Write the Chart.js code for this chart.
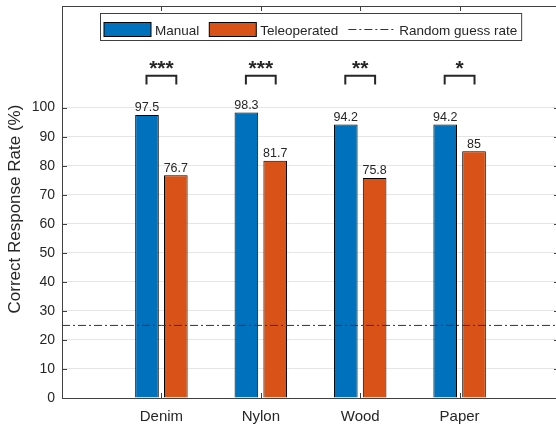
<!DOCTYPE html>
<html>
<head>
<meta charset="utf-8">
<script src="https://cdn.jsdelivr.net/npm/chart.js@4"></script>
<style>
  body { margin: 0; background: #fff; }
  canvas { display: block; }
</style>
</head>
<body>
<canvas id="chart" width="556" height="426"></canvas>
<script>
const categories = ['Denim', 'Nylon', 'Wood', 'Paper']
const manual = [97.5, 98.3, 94.2, 94.2]
const teleoperated = [76.7, 81.7, 75.8, 85]
const manualLabels = ['97.5', '98.3', '94.2', '94.2']
const teleLabels = ['76.7', '81.7', '75.8', '85']
const significance = ['***', '***', '**', '*']
const guessRate = 25
const yMax = 135
const yTickMax = 100

const blue = '#0072BD'
const orange = '#D95319'
const textColor = '#262626'
const font = "'Liberation Sans', Arial, Helvetica, sans-serif"
const dashDot = [8, 3, 2, 3]

Chart.defaults.font.family = font
Chart.defaults.color = textColor

// empty slot on each side so the groups sit at 1..4 on a 0..5 axis
const labels = ['', ...categories, '']
const pad = (arr) => [null, ...arr, null]

const noPadding = (s) => {
    s.paddingTop = 0
    s.paddingBottom = 0
    s.paddingLeft = 0
    s.paddingRight = 0
}

const extras = {
    id: 'extras',
    afterLayout(chart) {
        // the right edge of the axes box sits a few px past the canvas
        const x = chart.scales.x
        x.right += 3
        x.width = x.right - x.left
        x.configure()
        chart.chartArea.right += 3
        chart.chartArea.width += 3
    },
    afterDatasetsDraw(chart) {
        const ctx = chart.ctx
        const a = chart.chartArea
        const x = chart.scales.x
        const y = chart.scales.y
        const m0 = chart.getDatasetMeta(1)
        const m1 = chart.getDatasetMeta(2)
        ctx.save()

        // value labels above the bars
        ctx.fillStyle = textColor
        ctx.font = '12.5px ' + font
        ctx.textAlign = 'center'
        ctx.textBaseline = 'alphabetic'
        categories.forEach((c, i) => {
            const b0 = m0.data[i + 1]
            const b1 = m1.data[i + 1]
            ctx.fillText(manualLabels[i], b0.x, b0.y - 3.5)
            ctx.fillText(teleLabels[i], b1.x, b1.y - 3.5)
        })

        // significance brackets + stars
        ctx.strokeStyle = textColor
        ctx.lineWidth = 2
        const top = y.getPixelForValue(111)
        const leg = y.getPixelForValue(108)
        ctx.font = 'bold 21px ' + font
        categories.forEach((c, i) => {
            const x0 = m0.data[i + 1].x - 0.5
            const x1 = m1.data[i + 1].x + 0.5
            ctx.beginPath()
            ctx.moveTo(x0, leg)
            ctx.lineTo(x0, top)
            ctx.lineTo(x1, top)
            ctx.lineTo(x1, leg)
            ctx.stroke()
            ctx.fillText(significance[i], (x0 + x1) / 2, top - 1)
        })

        // box outline and inward ticks
        ctx.strokeStyle = '#404040'
        ctx.lineWidth = 1
        ctx.beginPath()
        ctx.moveTo(a.left, a.top + 0.5)
        ctx.lineTo(a.right, a.top + 0.5)
        categories.forEach((c, i) => {
            const px = Math.round(x.getPixelForValue(i + 1)) + 0.5
            ctx.moveTo(px, a.top)
            ctx.lineTo(px, a.top + 5)
            ctx.moveTo(px, a.bottom)
            ctx.lineTo(px, a.bottom - 5)
        })
        y.ticks.forEach((t) => {
            const py = Math.round(y.getPixelForValue(t.value)) + 0.5
            ctx.moveTo(a.left, py)
            ctx.lineTo(a.left + 5, py)
            ctx.moveTo(a.right, py)
            ctx.lineTo(a.right - 5, py)
        })
        ctx.stroke()

        drawLegend(ctx, a)
        ctx.restore()
    }
}

function drawLegend(ctx, a) {
    const items = [
        { text: 'Manual', color: blue },
        { text: 'Teleoperated', color: orange },
        { text: 'Random guess rate', line: true }
    ]
    ctx.font = '13.5px ' + font
    const sw = 47
    let w = 3.5 + 4.5
    items.forEach((it, i) => {
        it.w = ctx.measureText(it.text).width
        w += sw + 4 + it.w + (i > 0 ? 10 : 0)
    })
    const h = 27
    const left = Math.round((a.left + a.right) / 2 - w / 2) + 0.5
    const top = Math.round(a.top + 7) + 0.5
    ctx.fillStyle = '#fff'
    ctx.fillRect(left, top, w, h)
    ctx.strokeStyle = '#404040'
    ctx.lineWidth = 1
    ctx.strokeRect(left, top, w, h)

    let cx = left + 3.5
    items.forEach((it) => {
        if (it.line) {
            ctx.strokeStyle = '#333'
            ctx.setLineDash(dashDot)
            ctx.beginPath()
            ctx.moveTo(cx, top + 16)
            ctx.lineTo(cx + sw, top + 16)
            ctx.stroke()
            ctx.setLineDash([])
        } else {
            ctx.fillStyle = it.color
            ctx.fillRect(cx, top + 9, sw, 14)
            ctx.strokeStyle = '#000'
            ctx.strokeRect(cx, top + 9, sw, 14)
        }
        ctx.fillStyle = textColor
        ctx.textAlign = 'left'
        ctx.textBaseline = 'alphabetic'
        ctx.fillText(it.text, cx + sw + 4, top + 21.5)
        cx += sw + 4 + it.w + 10
    })
}

const ctx = document.getElementById('chart')

const chart = new Chart(ctx, {
    type: 'bar',
    data: {
        labels: labels,
        datasets: [{
            type: 'line',
            label: 'Random guess rate',
            data: labels.map(() => guessRate),
            borderColor: '#333',
            borderWidth: 1,
            borderDash: dashDot,
            pointRadius: 0,
            order: 0
        }, {
            label: 'Manual',
            data: pad(manual),
            backgroundColor: blue,
            borderColor: '#000',
            borderWidth: 1,
            order: 1
        }, {
            label: 'Teleoperated',
            data: pad(teleoperated),
            backgroundColor: orange,
            borderColor: '#000',
            borderWidth: 1,
            order: 1
        }]
    },
    options: {
        responsive: false,
        animation: false,
        categoryPercentage: 0.58,
        barPercentage: 0.82,
        layout: {
            padding: { top: 6, right: 0, bottom: 0, left: 0 }
        },
        plugins: {
            legend: { display: false },
            tooltip: { enabled: false }
        },
        scales: {
            x: {
                offset: false,
                grid: { display: false, drawTicks: false, tickLength: 0 },
                border: { display: true, color: '#404040', width: 1 },
                ticks: {
                    autoSkip: false,
                    maxRotation: 0,
                    padding: 10,
                    color: textColor,
                    font: { size: 15 }
                },
                afterFit: (s) => { s.height = 28; noPadding(s) }
            },
            y: {
                min: 0,
                max: yMax,
                grid: { color: '#e6e6e6', drawTicks: false, tickLength: 0 },
                border: { display: true, color: '#404040', width: 1 },
                ticks: {
                    stepSize: 10,
                    padding: 7,
                    color: textColor,
                    font: { size: 14 }
                },
                afterBuildTicks: (s) => {
                    s.ticks = s.ticks.filter((t) => t.value <= yTickMax)
                },
                afterFit: (s) => { s.width = 62; noPadding(s) },
                title: {
                    display: true,
                    // trailing spaces nudge the label a little lower, like the original
                    text: 'Correct Response Rate (%)   ',
                    color: textColor,
                    font: { size: 17 },
                    padding: { top: 5, bottom: 0 }
                }
            }
        }
    },
    plugins: [extras]
})
</script>
</body>
</html>
